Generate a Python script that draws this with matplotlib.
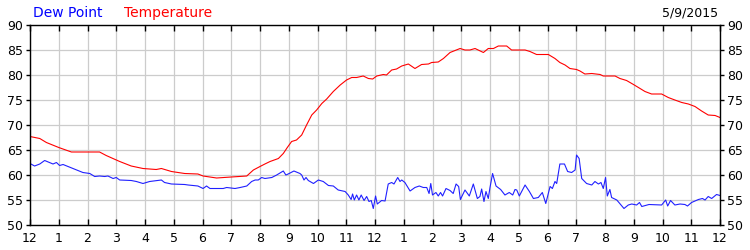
import matplotlib
matplotlib.use('Agg')
import matplotlib.pyplot as plt
import numpy as np

# temperature readings (hour of day, deg F)
temp_hours = [0, 0.34, 0.57, 1.0, 1.44, 2.42, 2.65, 3.12, 3.52, 3.93, 4.39, 4.57, 4.92,
              5.38, 5.84, 6.02, 6.49, 7.0, 7.54, 7.77, 8.0, 8.17, 8.35, 8.64, 8.81, 8.95,
              9.1, 9.27, 9.45, 9.62, 9.8, 9.97, 10.15, 10.32, 10.55, 10.79, 11.01, 11.19,
              11.36, 11.59, 11.77, 11.92, 12.06, 12.29, 12.4, 12.58, 12.75, 12.93, 13.16,
              13.39, 13.62, 13.86, 13.97, 14.2, 14.38, 14.61, 14.96, 15.13, 15.3, 15.48,
              15.77, 15.94, 16.12, 16.29, 16.58, 16.75, 17.22, 17.39, 17.62, 18.03, 18.26,
              18.43, 18.61, 18.78, 19.01, 19.13, 19.3, 19.54, 19.83, 19.94, 20.35, 20.52,
              20.75, 20.99, 21.22, 21.39, 21.62, 21.97, 22.2, 22.43, 22.67, 22.9, 23.13,
              23.36, 23.59, 23.83, 24.0]
temp_vals = [67.7, 67.3, 66.5, 65.5, 64.6, 64.6, 63.9, 62.7, 61.8, 61.3, 61.1, 61.3, 60.7,
             60.3, 60.2, 59.8, 59.4, 59.6, 59.8, 61.0, 61.7, 62.2, 62.7, 63.3, 64.3, 65.5,
             66.7, 67.0, 68.0, 70.0, 72.0, 73.0, 74.3, 75.2, 76.7, 78.0, 79.0, 79.5,
             79.5, 79.8, 79.3, 79.2, 79.8, 80.1, 80.0, 81.0, 81.2, 81.8, 82.2,
             81.3, 82.1, 82.2, 82.5, 82.6, 83.3, 84.5, 85.3, 85.0, 85.0, 85.3,
             84.5, 85.3, 85.3, 85.8, 85.8, 85.0, 85.0, 84.7, 84.1, 84.1, 83.3,
             82.5, 82.0, 81.3, 81.1, 80.8, 80.2, 80.3, 80.1, 79.8, 79.8, 79.3,
             78.9, 78.1, 77.3, 76.7, 76.2, 76.2, 75.5, 75.0, 74.5, 74.2, 73.7,
             72.8, 72.0, 71.9, 71.5]

# dew point readings (hour of day, deg F)
dew_hours = [0, 0.16, 0.34, 0.51, 0.68, 0.8, 0.92, 1.03, 1.15, 1.32, 1.61, 1.84, 2.08,
             2.25, 2.42, 2.6, 2.71, 2.89, 3.0, 3.12, 3.52, 3.7, 3.93, 4.16, 4.57, 4.68,
             4.92, 5.38, 5.5, 5.84, 6.02, 6.14, 6.26, 6.72, 6.84, 7.13, 7.31, 7.54, 7.71,
             7.83, 7.94, 8.06, 8.17, 8.41, 8.58, 8.81, 8.9, 8.98, 9.18, 9.39, 9.45, 9.53,
             9.6, 9.68, 9.86, 10.03, 10.2, 10.38, 10.55, 10.72, 10.96, 11.07, 11.17, 11.22,
             11.28, 11.36, 11.44, 11.52, 11.62, 11.71, 11.79, 11.87, 11.94, 12.02, 12.08,
             12.23, 12.35, 12.46, 12.58, 12.66, 12.79, 12.87, 12.93, 13.04, 13.22, 13.39,
             13.54, 13.68, 13.8, 13.88, 13.94, 14.0, 14.12, 14.2, 14.28, 14.35, 14.47,
             14.61, 14.72, 14.82, 14.91, 14.97, 15.13, 15.28, 15.42, 15.56, 15.65, 15.71,
             15.79, 15.86, 15.94, 16.0, 16.09, 16.21, 16.37, 16.52, 16.67, 16.79, 16.87,
             16.93, 17.02, 17.22, 17.37, 17.51, 17.68, 17.82, 17.94, 18.09, 18.17, 18.26,
             18.32, 18.43, 18.59, 18.7, 18.84, 18.96, 19.01, 19.1, 19.19, 19.36, 19.54,
             19.65, 19.77, 19.86, 19.94, 20.02, 20.08, 20.17, 20.23, 20.41, 20.66, 20.81,
             20.93, 21.1, 21.2, 21.28, 21.53, 21.97, 22.11, 22.18, 22.28, 22.43, 22.61,
             22.78, 22.87, 23.01, 23.25, 23.39, 23.48, 23.59, 23.71, 23.88, 24.0]
dew_vals = [62.3, 61.8, 62.2, 62.9, 62.5, 62.2, 62.5, 61.9, 62.1, 61.7, 61.0, 60.5, 60.3,
            59.7, 59.8, 59.7, 59.8, 59.3, 59.5, 59.0, 58.9, 58.7, 58.3, 58.7, 59.0, 58.5,
            58.2, 58.1, 58.0, 57.8, 57.3, 57.8, 57.3, 57.3, 57.5, 57.3, 57.5, 57.8, 58.7,
            59.0, 59.0, 59.5, 59.3, 59.5, 60.0, 60.8, 60.0, 60.2, 60.8, 60.3, 60.0, 59.0,
            59.5, 58.9, 58.3, 59.0, 58.7, 57.9, 57.8, 57.0, 56.7, 56.0, 55.1, 56.2,
            55.0, 56.0, 55.0, 56.0, 54.9, 55.7, 54.7, 54.9, 53.3, 55.8, 54.2,
            54.9, 54.8, 58.2, 58.5, 58.2, 59.5, 58.7, 59.0, 58.5, 56.8, 57.5,
            57.8, 57.5, 57.5, 56.3, 58.3, 56.0, 56.5, 55.8, 56.5, 55.8, 57.3,
            56.9, 56.3, 58.2, 57.7, 55.1, 57.0, 55.8, 58.2, 55.3, 55.7, 57.2,
            54.7, 56.7, 55.3, 57.5, 60.3, 57.8, 57.1, 56.0, 56.5, 56.0, 57.1,
            57.0, 55.8, 58.0, 56.7, 55.3, 55.5, 56.5, 54.3, 57.7, 57.3, 58.7,
            58.3, 62.2, 62.2, 60.7, 60.5, 61.0, 64.0, 63.3, 59.3, 58.3, 58.0,
            58.7, 58.2, 58.5, 57.3, 59.5, 55.8, 57.1, 55.5, 55.0, 53.3, 54.0,
            54.2, 54.0, 54.5, 53.7, 54.1, 54.0, 55.0, 53.8, 54.9, 54.0, 54.2,
            54.1, 53.8, 54.5, 55.1, 55.3, 55.0, 55.7, 55.3, 56.1, 55.9]

hour_labels = ['12'] + [str(i) for i in range(1, 12)] + ['12'] + [str(i) for i in range(1, 12)] + ['12']
y_ticks = [50, 55, 60, 65, 70, 75, 80, 85, 90]
date_text = '5/9/2015'

plt.rcParams['font.family'] = ['DejaVu Sans']
plt.rcParams['font.size'] = 9

fig = plt.figure(figsize=(7.5, 2.5), dpi=100)
ax = fig.add_axes([30 / 750, 25 / 250, 690 / 750, 200 / 250])

ax.plot(temp_hours, temp_vals, color='#ff0000', lw=0.8)
ax.plot(dew_hours, dew_vals, color='#2020ff', lw=0.8)

ax.set_xlim(0, 24)
ax.set_ylim(50, 90)
ax.set_xticks(np.arange(25))
ax.set_xticklabels(hour_labels)
ax.set_yticks(y_ticks)
ax.grid(True, color='#cccccc', lw=0.9)
ax.set_axisbelow(True)
for s in ax.spines.values():
    s.set_linewidth(1.0)
    s.set_color('black')

ax.tick_params(axis='x', direction='in', top=True, length=4, width=1, pad=5)
ax.tick_params(axis='y', direction='out', right=True, labelright=True, length=3, width=1, pad=2)

fig.text(33 / 750, 1 - 13 / 250, 'Dew Point', color='#0000ff', fontsize=10, va='center', ha='left')
fig.text(124 / 750, 1 - 13 / 250, 'Temperature', color='#ff0000', fontsize=10, va='center', ha='left')
fig.text(718 / 750, 1 - 13 / 250, date_text, color='black', fontsize=9, va='center', ha='right')

fig.savefig('out.png', dpi=100)
